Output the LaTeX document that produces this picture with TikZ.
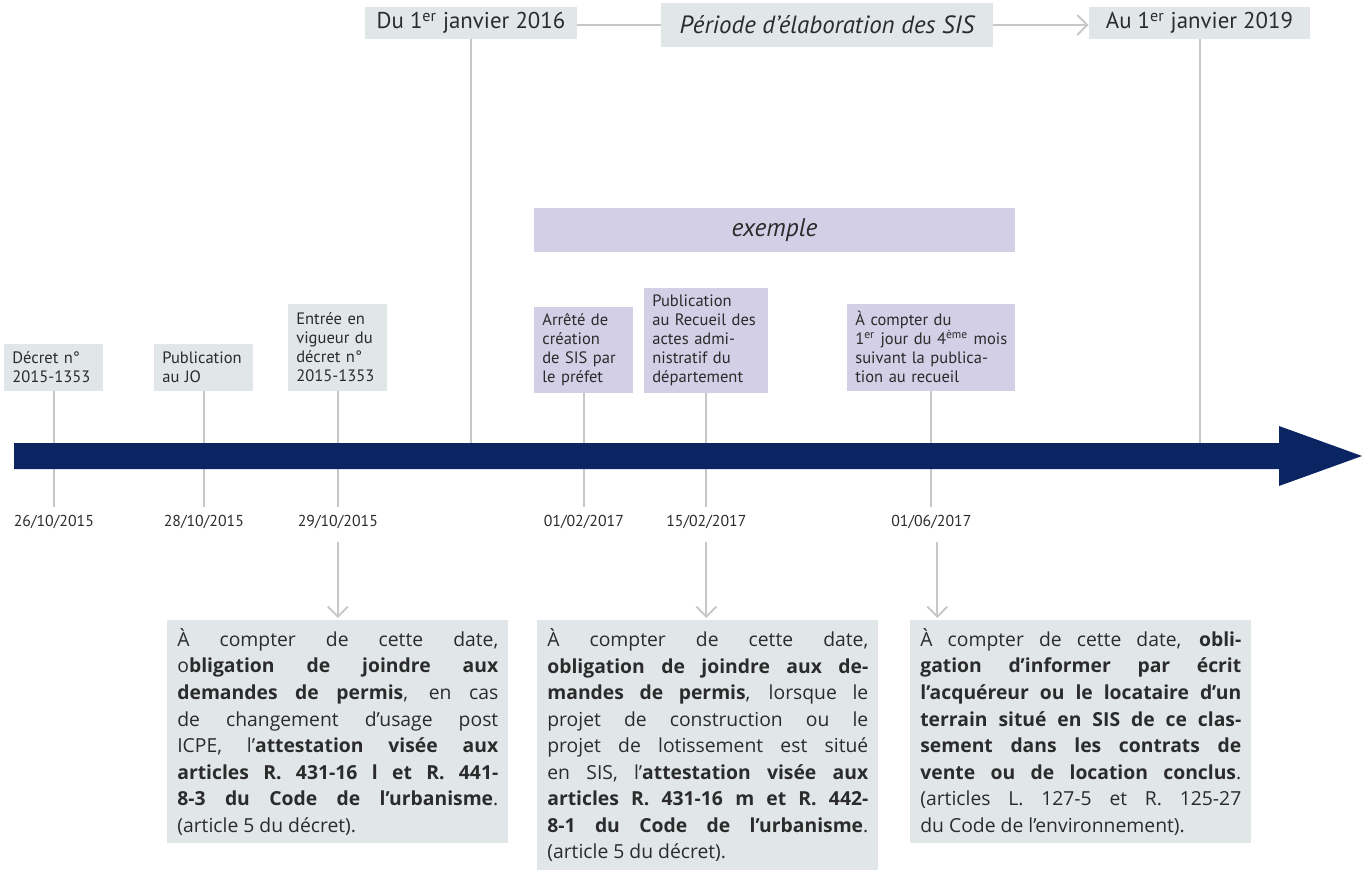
\documentclass[tikz,border=0pt]{standalone}
\usepackage{fontspec}
\setmainfont{PT Sans}
\newfontfamily\bodyfont{Open Sans}
\usepackage{tikz}
\usetikzlibrary{positioning, arrows.meta}
\setlength{\parindent}{0pt}

\definecolor{navy}{HTML}{0B2562}
\definecolor{boxgrey}{HTML}{E1E6E8}
\definecolor{boxlilac}{HTML}{D3CFE6}
\definecolor{tickgrey}{HTML}{C8C8C8}
\definecolor{txt}{HTML}{2B2B2B}

\newcommand{\jline}[1]{\spaceskip=0pt\xspaceskip=0pt\makebox[\hsize][s]{#1}\\}

\begin{document}
\begin{tikzpicture}[x=0.02cm, y=-0.02cm,
  every node/.style={text=txt},
  tick/.style={draw=tickgrey, line width=0.04cm},
  chev/.style={-{Straight Barb[length=0.2cm, width=0.4cm, line width=0.04cm]}},
  headbox/.style={fill=boxgrey, inner sep=0pt, font=\fontsize{13}{15}\selectfont},
  smallbox/.style={fill=#1, anchor=south west, align=left, inner xsep=0.16cm,
    inner ysep=0pt, font=\fontsize{9.4}{10.8}\selectfont},
  smallbox/.default=boxgrey,
  datelbl/.style={inner sep=0pt, font=\fontsize{9}{11}\selectfont},
  bigbox/.style={fill=boxgrey, anchor=north west, align=left, text width=6.42cm,
    inner xsep=0.2cm, inner ysep=0pt, font=\bodyfont\fontsize{11}{15.1}\selectfont}]
\useasboundingbox (0,0) rectangle (1370,872);

% header
\node[headbox, minimum width=4.24cm, minimum height=0.64cm] (start) at (471,23) {Du 1\textsuperscript{er} janvier 2016};
\node[headbox, minimum width=6.64cm, minimum height=0.88cm, font=\fontsize{14.2}{16}\selectfont] (period) at (827,25) {\itshape Période d’élaboration des SIS};
\node[headbox, minimum width=4.42cm, minimum height=0.64cm] (end) at (1199.5,23) {Au 1\textsuperscript{er} janvier 2019};
\draw[tick] (start.east |- period.west) -- (period.west);
\draw[tick, chev] (period.east) -- (end.west |- period.east);

\node[headbox, fill=boxlilac, minimum width=9.62cm, minimum height=0.88cm, font=\fontsize{14.5}{16}\selectfont] (ex) at (774.5,230) {\itshape exemple};

% events
\node[smallbox, text width=1.66cm, minimum height=0.94cm] (decret) at (4,391) {Décret n°\\2015-1353};
\node[smallbox, text width=1.66cm, minimum height=0.94cm] (jo) at (154,391) {Publication\\au JO};
\node[smallbox, text width=1.66cm, minimum height=1.74cm] (vigueur) at (288,391) {Entrée en\\vigueur du\\décret n°\\2015-1353};
\node[smallbox=boxlilac, text width=1.66cm, minimum height=1.72cm] (arrete) at (534,393) {Arrêté de\\création\\de SIS par\\le préfet};
\node[smallbox=boxlilac, text width=2.16cm, minimum height=2.1cm] (recueil) at (644,393) {Publication\\au Recueil des\\actes admi-\\nistratif du\\département};
\node[smallbox=boxlilac, text width=3.04cm, minimum height=1.74cm] (compter) at (847,391) {À compter du\\1\textsuperscript{er} jour du 4\textsuperscript{ème} mois\\suivant la publica-\\tion au recueil};

\node[datelbl] (d1) at (decret.south |- 0,522) {26/10/2015};
\node[datelbl] (d2) at (jo.south |- 0,522) {28/10/2015};
\node[datelbl] (d3) at (vigueur.south |- 0,522) {29/10/2015};
\node[datelbl] (d4) at (arrete.south |- 0,522) {01/02/2017};
\node[datelbl] (d5) at (recueil.south |- 0,522) {15/02/2017};
\node[datelbl] (d6) at (compter.south |- 0,522) {01/06/2017};

\foreach \ev/\dt in {decret/d1, jo/d2, vigueur/d3, arrete/d4, recueil/d5, compter/d6}
  \draw[tick, shorten >=0.16cm] (\ev.south) -- (\dt.north);
\draw[tick] (start.south) -- (start.south |- 0,456);
\draw[tick] (end.south) -- (end.south |- 0,456);

% timeline arrow
\fill[navy] (14,443) -- (1279,443) -- (1279,426) -- (1362,456) -- (1279,486)
  -- (1279,469) -- (14,469) -- cycle;

% consequences
\node[bigbox, minimum height=4.46cm] (box1) at (167,620) {%
\jline{À compter de cette date,}
\jline{o\textbf{bligation de joindre aux}}
\jline{\textbf{demandes de permis}, en cas}
\jline{de changement d’usage post}
\jline{ICPE, l’\textbf{attestation visée aux}}
\jline{\textbf{articles R. 431-16 l et R. 441-}}
\jline{\textbf{8-3 du Code de l’urbanisme}.}
(article 5 du décret).};
\node[bigbox, minimum height=5cm] (box2) at (537,620) {%
\jline{À compter de cette date,}
\jline{\textbf{obligation de joindre aux de-}}
\jline{\textbf{mandes de permis}, lorsque le}
\jline{projet de construction ou le}
\jline{projet de lotissement est situé}
\jline{en SIS, l’\textbf{attestation visée aux}}
\jline{\textbf{articles R. 431-16 m et R. 442-}}
\jline{\textbf{8-1 du Code de l’urbanisme}.}
(article 5 du décret).};
\node[bigbox, minimum height=4.46cm] (box3) at (910,620) {%
\jline{À compter de cette date, \textbf{obli-}}
\jline{\textbf{gation d’informer par écrit}}
\jline{\textbf{l’acquéreur ou le locataire d’un}}
\jline{\textbf{terrain situé en SIS de ce clas-}}
\jline{\textbf{sement dans les contrats de}}
\jline{\textbf{vente ou de location conclus}.}
\jline{(articles L. 127-5 et R. 125-27}
du Code de l’environnement).};

\draw[tick, chev, shorten <=0.26cm, shorten >=0.04cm] (d3.south) -- (d3.south |- box1.north);
\draw[tick, chev, shorten <=0.26cm, shorten >=0.04cm] (d5.south) -- (d5.south |- box2.north);
\draw[tick, chev, shorten <=0.26cm, shorten >=0.04cm] ([xshift=0.12cm]d6.south) -- ([xshift=0.12cm]d6.south |- box3.north);
\end{tikzpicture}
\end{document}
